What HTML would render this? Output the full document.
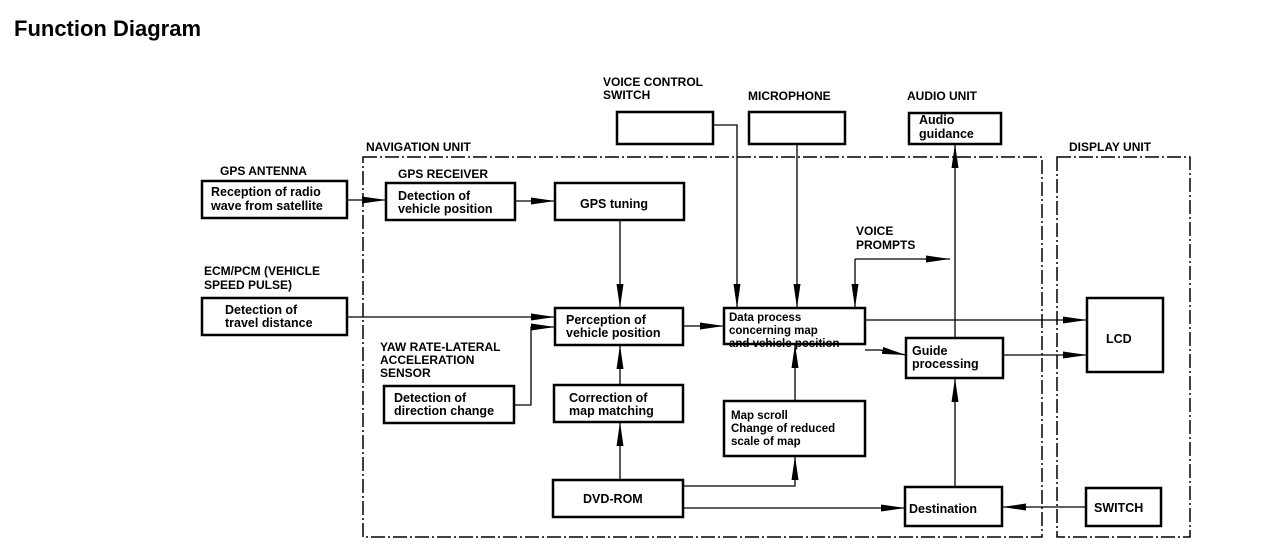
<!DOCTYPE html>
<html><head><meta charset="utf-8"><style>
html,body{margin:0;padding:0;background:#fff;}
svg{display:block;}
text{font-family:"Liberation Sans",Arial,sans-serif;font-weight:bold;font-size:12px;fill:#000;}
.t{font-size:12.5px;}
</style></head><body>
<svg width="1280" height="558" viewBox="0 0 1280 558" xmlns="http://www.w3.org/2000/svg">
<defs>
<marker id="a" markerWidth="26" markerHeight="10" refX="24" refY="5" orient="auto" markerUnits="userSpaceOnUse">
<path d="M0,1.5 L24,5 L0,8.5 Z" fill="#000"/></marker>
</defs>
<text x="14" y="36" style="font-size:22px">Function Diagram</text>

<g fill="none" stroke="#000" stroke-width="1.5" stroke-dasharray="14,3,2,3">
<rect x="363" y="157" width="679" height="380"/>
<rect x="1057" y="157" width="133" height="380"/>
</g>

<g fill="none" stroke="#000" stroke-width="2.5">
<rect x="202" y="181" width="145" height="37"/>
<rect x="386" y="183" width="129" height="37"/>
<rect x="555" y="183" width="129" height="37"/>
<rect x="202" y="298" width="145" height="37"/>
<rect x="555" y="308" width="128" height="37"/>
<rect x="384" y="386" width="130" height="37"/>
<rect x="554" y="385" width="129" height="37"/>
<rect x="553" y="480" width="130" height="37"/>
<rect x="724" y="308" width="141" height="36"/>
<rect x="724" y="401" width="141" height="55"/>
<rect x="906" y="338" width="97" height="40"/>
<rect x="905" y="487" width="97" height="39"/>
<rect x="909" y="113" width="92" height="31"/>
<rect x="617" y="112" width="96" height="32"/>
<rect x="749" y="112" width="96" height="32"/>
<rect x="1087" y="298" width="76" height="74"/>
<rect x="1086" y="488" width="75" height="38"/>
</g>

<g fill="none" stroke="#000" stroke-width="1.3">
<path d="M347,200 H386" marker-end="url(#a)"/>
<path d="M515,201 H555" marker-end="url(#a)"/>
<path d="M620,220 V308" marker-end="url(#a)"/>
<path d="M347,317 H555" marker-end="url(#a)"/>
<path d="M514,405 H531 V327 H555" marker-end="url(#a)"/>
<path d="M620,385 V345" marker-end="url(#a)"/>
<path d="M620,480 V422" marker-end="url(#a)"/>
<path d="M683,326 H724" marker-end="url(#a)"/>
<path d="M683,486 H795 V456" marker-end="url(#a)"/>
<path d="M795,401 V344" marker-end="url(#a)"/>
<path d="M683,508 H905" marker-end="url(#a)"/>
<path d="M713,125 H737 V308" marker-end="url(#a)"/>
<path d="M797,144 V308" marker-end="url(#a)"/>
<path d="M855,259 V308" marker-end="url(#a)"/>
<path d="M855,259 H950" marker-end="url(#a)"/>
<path d="M955,338 V144" marker-end="url(#a)"/>
<path d="M865,320 H1087" marker-end="url(#a)"/>
<path d="M865,350 H880 L906,355" marker-end="url(#a)"/>
<path d="M1003,355 H1087" marker-end="url(#a)"/>
<path d="M955,487 V378" marker-end="url(#a)"/>
<path d="M1086,507 H1002" marker-end="url(#a)"/>
</g>

<text x="366" y="151">NAVIGATION UNIT</text>
<text x="1069" y="151">DISPLAY UNIT</text>
<text x="220" y="175">GPS ANTENNA</text>
<text x="398" y="178">GPS RECEIVER</text>
<text x="204" y="275">ECM/PCM (VEHICLE</text>
<text x="204" y="289">SPEED PULSE)</text>
<text x="380" y="351">YAW RATE-LATERAL</text>
<text x="380" y="364">ACCELERATION</text>
<text x="380" y="377">SENSOR</text>
<text x="603" y="86">VOICE CONTROL</text>
<text x="603" y="99">SWITCH</text>
<text x="748" y="100">MICROPHONE</text>
<text x="907" y="100">AUDIO UNIT</text>
<text x="856" y="235">VOICE</text>
<text x="856" y="249">PROMPTS</text>

<text class="t" x="211" y="196">Reception of radio</text>
<text class="t" x="211" y="210">wave from satellite</text>
<text class="t" x="398" y="200">Detection of</text>
<text class="t" x="398" y="213">vehicle position</text>
<text class="t" x="580" y="208">GPS tuning</text>
<text class="t" x="225" y="314">Detection of</text>
<text class="t" x="225" y="327">travel distance</text>
<text class="t" x="566" y="324">Perception of</text>
<text class="t" x="566" y="337">vehicle position</text>
<text class="t" x="394" y="402">Detection of</text>
<text class="t" x="394" y="415">direction change</text>
<text class="t" x="569" y="402">Correction of</text>
<text class="t" x="569" y="415">map matching</text>
<text class="t" x="583" y="503">DVD-ROM</text>
<text x="729" y="321" style="font-size:11.5px">Data process</text>
<text x="729" y="334" style="font-size:11.5px">concerning map</text>
<text x="729" y="347" style="font-size:11.5px">and vehicle position</text>
<text x="731" y="419" style="font-size:11.5px">Map scroll</text>
<text x="731" y="432" style="font-size:11.5px">Change of reduced</text>
<text x="731" y="445" style="font-size:11.5px">scale of map</text>
<text class="t" x="912" y="355">Guide</text>
<text class="t" x="912" y="368">processing</text>
<text class="t" x="909" y="513">Destination</text>
<text class="t" x="919" y="124">Audio</text>
<text class="t" x="919" y="138">guidance</text>
<text class="t" x="1106" y="343">LCD</text>
<text class="t" x="1094" y="512">SWITCH</text>
</svg>
</body></html>
